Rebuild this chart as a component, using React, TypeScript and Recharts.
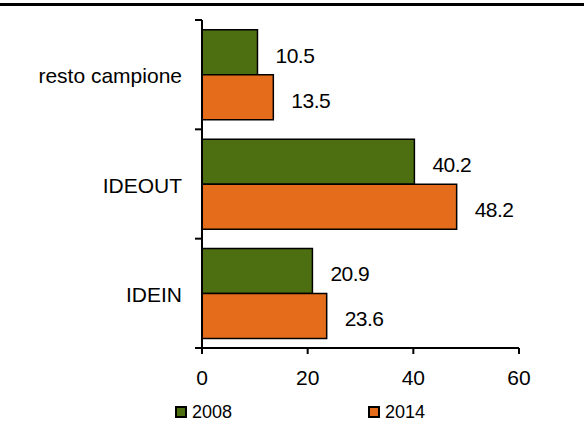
import { BarChart, Bar, XAxis, YAxis, LabelList } from "recharts";

const categories = ["resto campione", "IDEOUT", "IDEIN"];
const values2008 = [10.5, 40.2, 20.9];
const values2014 = [13.5, 48.2, 23.6];
const xTicks = [0, 20, 40, 60];
const seriesNames = ["2008", "2014"];

const GREEN = "#4e6e12";
const ORANGE = "#e46c1b";
const FONT = "'Liberation Sans', Arial, sans-serif";

const W = 584;
const H = 426;
const TOP = 20;
const BOTTOM = 348;
const AXIS_X = 202;
const BAND = (BOTTOM - TOP) / categories.length;

const data = categories.map((name, i) => ({
  name,
  y2008: values2008[i],
  y2014: values2014[i],
}));

function YTick(props: any) {
  const { y, payload, index } = props;
  return (
    <g>
      <text
        x={AXIS_X - 20}
        y={y + 1}
        textAnchor="end"
        dominantBaseline="central"
        fontFamily={FONT}
        fontSize={21}
        fill="#000"
      >
        {payload.value}
      </text>
      <line x1={AXIS_X - 7} x2={AXIS_X} y1={y - BAND / 2} y2={y - BAND / 2} stroke="#000" strokeWidth={2} />
      {index === categories.length - 1 && (
        <line x1={AXIS_X - 7} x2={AXIS_X} y1={y + BAND / 2} y2={y + BAND / 2} stroke="#000" strokeWidth={2} />
      )}
    </g>
  );
}

export default function App() {
  return (
    <div style={{ position: "absolute", left: 0, top: 0, width: W, height: H, background: "#fff", fontFamily: FONT }}>
      <div style={{ position: "absolute", left: 0, top: 3, width: W, height: 3, background: "#000" }} />
      <BarChart
        width={W}
        height={H}
        data={data}
        layout="vertical"
        margin={{ top: TOP, right: 65, bottom: H - BOTTOM - 30, left: 0 }}
        barCategoryGap="9%"
        barGap={0}
      >
        <XAxis
          type="number"
          domain={[0, 60]}
          ticks={xTicks}
          height={30}
          axisLine={{ stroke: "#000", strokeWidth: 2 }}
          tickLine={{ stroke: "#000", strokeWidth: 2 }}
          tickSize={6}
          tickMargin={16}
          tick={{ fill: "#000", fontSize: 21, fontFamily: FONT }}
        />
        <YAxis
          type="category"
          dataKey="name"
          width={AXIS_X}
          axisLine={{ stroke: "#000", strokeWidth: 2 }}
          tickLine={false}
          tick={<YTick />}
        />
        <Bar dataKey="y2008" fill={GREEN} stroke="#000" strokeWidth={1.5} isAnimationActive={false}>
          <LabelList dataKey="y2008" position="right" offset={18} fill="#000" fontSize={21} fontFamily={FONT} dy={3} letterSpacing={-0.5} />
        </Bar>
        <Bar dataKey="y2014" fill={ORANGE} stroke="#000" strokeWidth={1.5} isAnimationActive={false}>
          <LabelList dataKey="y2014" position="right" offset={18} fill="#000" fontSize={21} fontFamily={FONT} dy={3} letterSpacing={-0.5} />
        </Bar>
      </BarChart>
      {seriesNames.map((s, i) => (
        <div
          key={s}
          style={{
            position: "absolute",
            left: i === 0 ? 175 : 368,
            top: 401,
            height: 22,
            display: "flex",
            alignItems: "center",
            fontSize: 18,
            fontFamily: FONT,
            color: "#000",
          }}
        >
          <span
            style={{
              display: "inline-block",
              boxSizing: "border-box",
              width: 12,
              height: 12,
              background: i === 0 ? GREEN : ORANGE,
              border: "2px solid #000",
              marginRight: 5,
            }}
          />
          {s}
        </div>
      ))}
    </div>
  );
}
